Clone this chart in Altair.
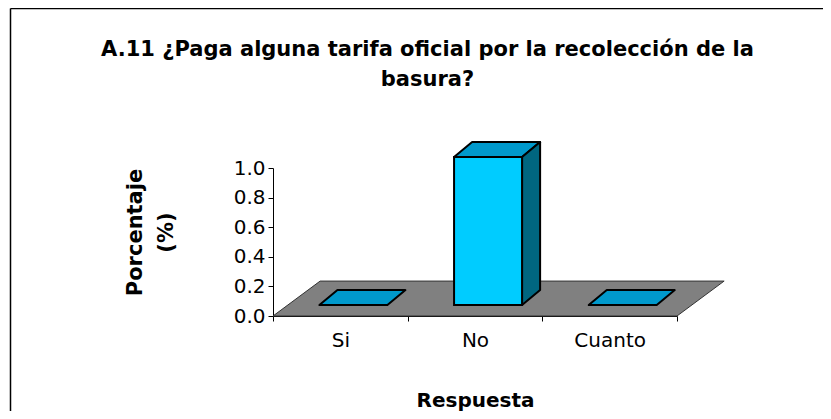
import json
import altair as alt
import pandas as pd

# ---------------- data ----------------
categories = ["Si", "No", "Cuanto"]
values = [0.0, 1.0, 0.0]
y_ticks = [0.0, 0.2, 0.4, 0.6, 0.8, 1.0]
title_lines = ["A.11 ¿Paga alguna tarifa oficial por la recolección de la", "basura?"]
x_title = "Respuesta"
y_title = ["Porcentaje", "(%)"]

# ---------------- 3D styling (data units) ----------------
FLOOR_DX = 0.35     # depth shift along category axis
FLOOR_DY = 0.236    # depth shift along value axis
BAR_HALF = 0.2525   # half bar width (category units)
BAR_SHIFT_X = 0.097 # bar front offset (mid depth)
BAR_SHIFT_Y = 0.074
BAR_DX = 0.134      # bar depth
BAR_DY = 0.101

n = len(categories)

floor_df = pd.DataFrame([
    {"id": "floor", "y": 0.0, "x": 0.0, "x2": float(n)},
    {"id": "floor", "y": FLOOR_DY, "x": FLOOR_DX, "x2": n + FLOOR_DX},
])

top_rows, side_rows, front_rows = [], [], []
for i, (cat, v) in enumerate(zip(categories, values)):
    c = i + 0.5
    xl = c + BAR_SHIFT_X - BAR_HALF
    xr = c + BAR_SHIFT_X + BAR_HALF
    b = BAR_SHIFT_Y
    top_rows.append({"id": cat, "y": b + v, "x": xl, "x2": xr})
    top_rows.append({"id": cat, "y": b + v + BAR_DY, "x": xl + BAR_DX, "x2": xr + BAR_DX})
    if v > 0:
        side_rows.append({"id": cat, "x": xr, "y": b, "y2": b + v})
        side_rows.append({"id": cat, "x": xr + BAR_DX, "y": b + BAR_DY, "y2": b + v + BAR_DY})
        front_rows.append({"id": cat, "x": xl, "x2": xr, "y": b, "y2": b + v})

top_df = pd.DataFrame(top_rows)
side_df = pd.DataFrame(side_rows)
front_df = pd.DataFrame(front_rows)

FONT = "DejaVu Sans"

xscale = alt.Scale(domain=[0, n], nice=False, zero=False)
yscale = alt.Scale(domain=[0, 1], nice=False, zero=False)

x_vals = [k * 0.5 for k in range(2 * n + 1)]
label_expr = f"datum.value % 1 == 0 ? '' : {json.dumps(categories)}[floor(datum.value)]"
xaxis = alt.Axis(
    values=x_vals,
    labelExpr=label_expr,
    tickOpacity={"expr": "datum.value % 1 == 0 ? 1 : 0"},
    tickSize=5,
    tickColor="black",
    domainColor="black",
    labelFont=FONT,
    labelFontSize=20,
    labelColor="black",
    labelPadding=9,
    labelOverlap=False,
    labelFlush=False,
    grid=False,
    title=x_title,
    titleFont=FONT,
    titleFontSize=20,
    titleFontWeight="bold",
    titleColor="black",
    titlePadding=40,
)
yaxis = alt.Axis(
    values=y_ticks,
    format=".1f",
    tickSize=5,
    tickColor="black",
    domainColor="black",
    labelFont=FONT,
    labelFontSize=20,
    labelColor="black",
    labelPadding=3,
    grid=False,
    title=y_title,
    titleFont=FONT,
    titleFontSize=21,
    titleFontWeight="bold",
    titleColor="black",
    titleLineHeight=31,
    titleX=-128,
    titleY=64,
)

X = alt.X("x:Q", scale=xscale, axis=xaxis)
Y = alt.Y("y:Q", scale=yscale, axis=yaxis)

floor = alt.Chart(floor_df).mark_area(
    orient="horizontal", color="#808080", stroke="#333333", strokeWidth=1
).encode(y=Y, x=X, x2="x2:Q", detail="id:N")

tops = alt.Chart(top_df).mark_area(
    orient="horizontal", color="#0099CC", stroke="black", strokeWidth=2, strokeJoin="round"
).encode(y=Y, x=X, x2="x2:Q", detail="id:N")

sides = alt.Chart(side_df).mark_area(
    orient="vertical", color="#006680", stroke="black", strokeWidth=2, strokeJoin="round"
).encode(x=X, y=Y, y2="y2:Q", detail="id:N")

fronts = alt.Chart(front_df).mark_rect(
    color="#00CCFF", stroke="black", strokeWidth=2
).encode(x=X, x2="x2:Q", y=Y, y2="y2:Q")

# outer frame (decorative, top and left edges visible in the crop)
frame_df = pd.DataFrame({"k": [0]})
frame_left = alt.Chart(frame_df).mark_rule(color="black", strokeWidth=1.5).encode(
    x=alt.value(-262.5), y=alt.value(-159.5), y2=alt.value(243)
)
frame_top = alt.Chart(frame_df).mark_rule(color="black", strokeWidth=1.5).encode(
    x=alt.value(-262.5), x2=alt.value(550), y=alt.value(-159.5)
)

chart = alt.layer(floor, tops, sides, fronts, frame_left, frame_top).properties(
    width=404,
    height=148,
    autosize=alt.AutoSizeParams(type="none"),
    padding={"left": 265, "top": 160, "right": 146, "bottom": 95},
    title=alt.TitleParams(
        text=title_lines,
        font=FONT,
        fontSize=21,
        fontWeight="bold",
        color="black",
        anchor="middle",
        frame="group",
        dx=-47.5,
        dy=82,
        lineHeight=30,
        offset=0,
    ),
).configure(
    background="white",
    view=alt.ViewConfig(stroke=None),
)

chart.save("out.html", embed_options={"renderer": "svg", "actions": False})
